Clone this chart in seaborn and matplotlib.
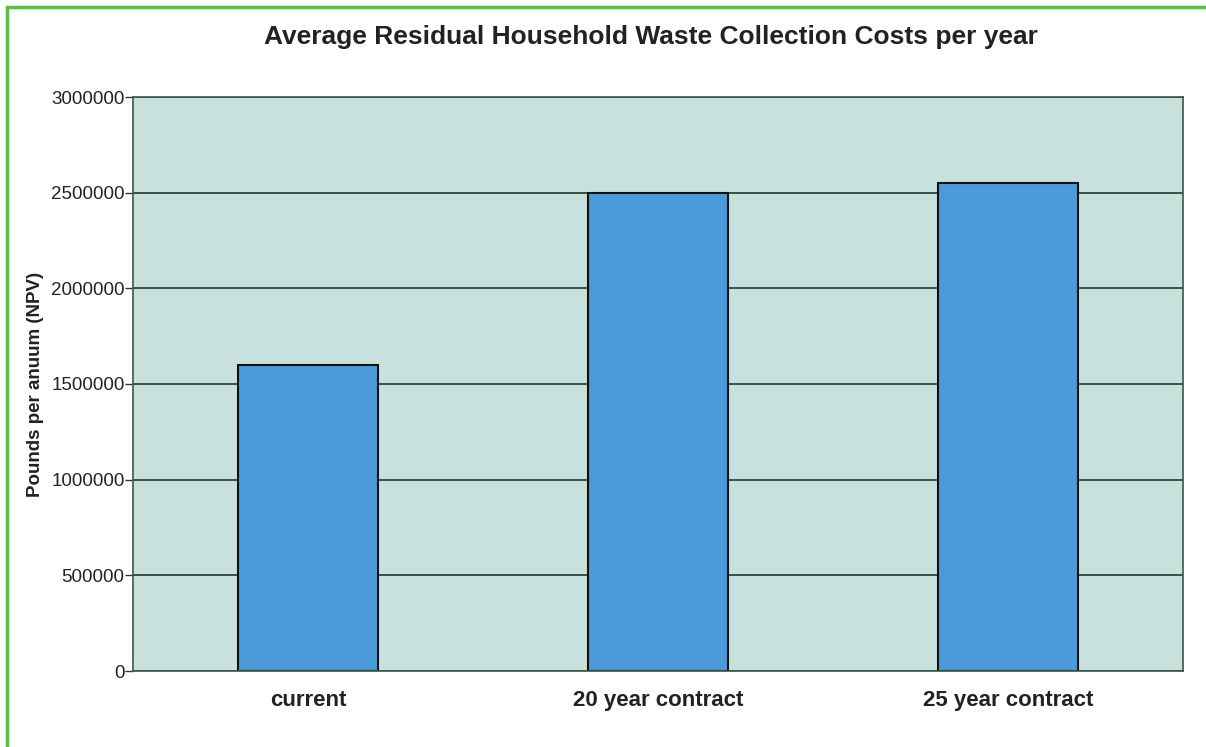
import pandas as pd
import seaborn as sns
import matplotlib.pyplot as plt
from matplotlib.lines import Line2D

# data
categories = ["current", "20 year contract", "25 year contract"]
costs = [1600000, 2500000, 2550000]
yticks = [0, 500000, 1000000, 1500000, 2000000, 2500000, 3000000]

df = pd.DataFrame({"option": categories, "cost": costs})

sns.set_theme(style="white")
plt.rcParams['font.family'] = ['Liberation Sans', 'DejaVu Sans']

fig = plt.figure(figsize=(12.06, 7.47), dpi=100)
ax = fig.add_axes([133 / 1206, 1 - 671 / 747, 1050 / 1206, 574 / 747])

ax.set_facecolor("#c9e1dc")
ax.set_axisbelow(True)
ax.yaxis.grid(True, color="#2c4538", linewidth=1.3)

sns.barplot(data=df, x="option", y="cost", ax=ax, color="#4a9bd8",
            saturation=1, width=0.4, edgecolor="#111111", linewidth=1.5)

ax.set_ylim(0, 3000000)
ax.set_yticks(yticks)
ax.set_yticklabels([str(v) for v in yticks], fontsize=13.5, color="#222222")
ax.tick_params(axis="y", length=6, width=1, color="#333333", pad=0, left=True)
ax.tick_params(axis="x", length=0, pad=14)
for lbl in ax.get_xticklabels():
    lbl.set_fontsize(16)
    lbl.set_fontweight("bold")
    lbl.set_color("#222222")

ax.set_xlabel("")
ax.set_ylabel("Pounds per anuum (NPV)", fontsize=13.5, fontweight="bold",
              color="#222222", labelpad=5)

for side in ["left", "bottom", "top", "right"]:
    ax.spines[side].set_color("#3a5a48")
    ax.spines[side].set_linewidth(1.2)

fig.text(651 / 1206, 1 - 37 / 747, "Average Residual Household Waste Collection Costs per year",
         ha="center", va="center", fontsize=19, fontweight="bold", color="#222222")

# green frame: top and left edges only
frame = "#5dbb46"
fig.lines.append(Line2D([7 / 1206, 1], [1 - 7 / 747, 1 - 7 / 747], transform=fig.transFigure,
                        color=frame, linewidth=2.5))
fig.lines.append(Line2D([7 / 1206, 7 / 1206], [0, 1 - 7 / 747], transform=fig.transFigure,
                        color=frame, linewidth=2.5))

fig.savefig("out.png", dpi=100)
plt.close(fig)
